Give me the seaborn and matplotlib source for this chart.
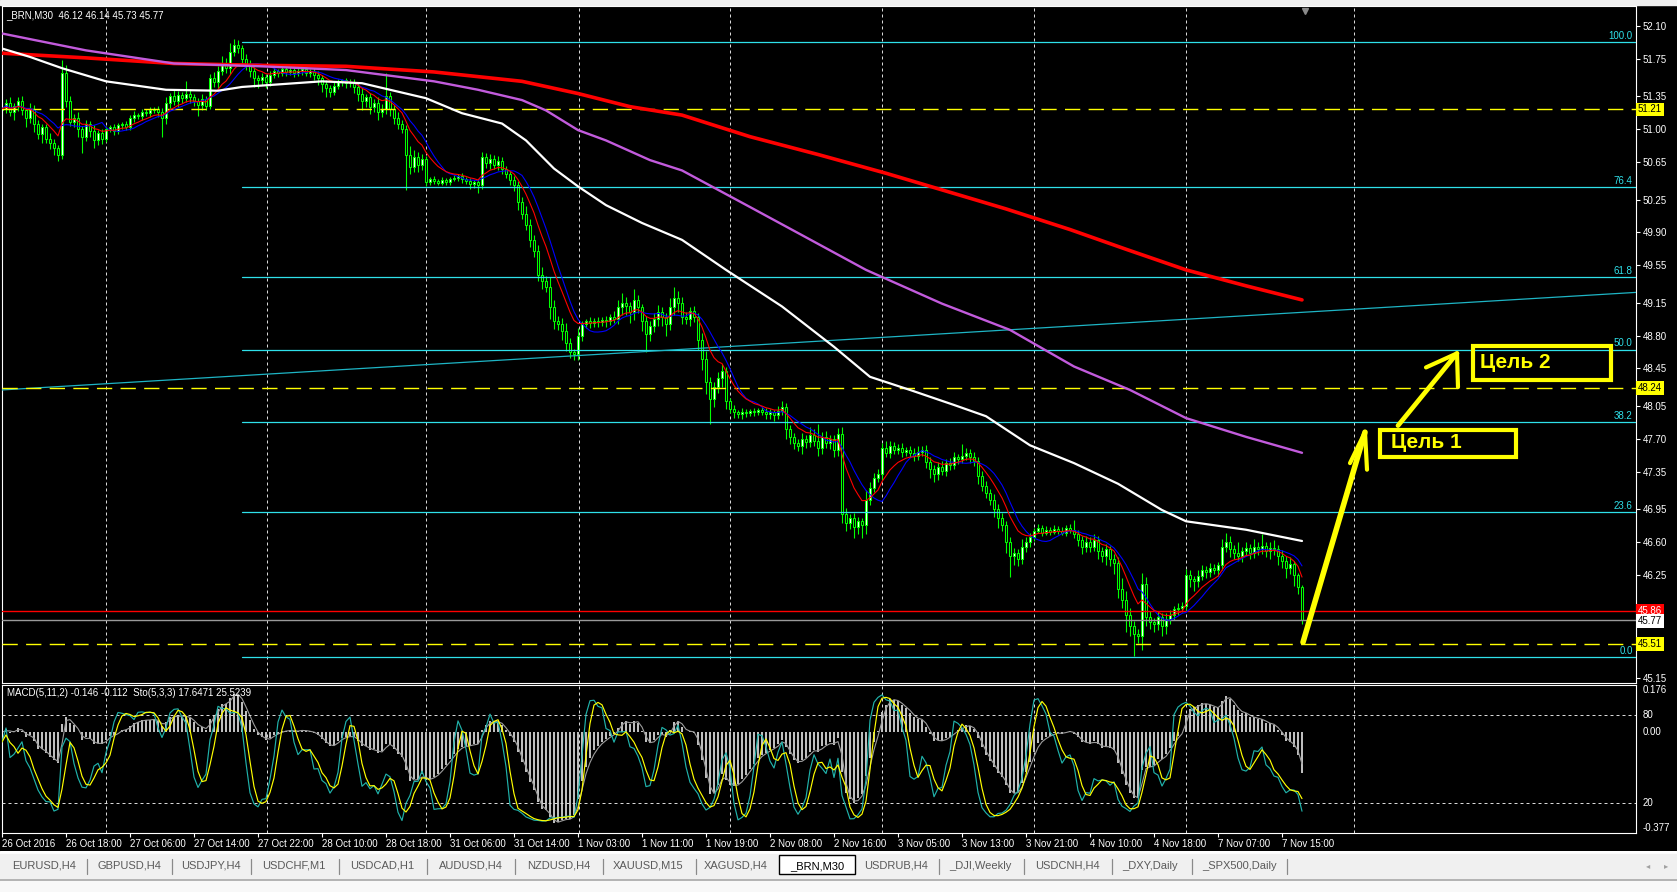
import numpy as np
import pandas as pd
import seaborn as sns
import matplotlib.pyplot as plt
import matplotlib.transforms as mtransforms
from matplotlib.patches import Rectangle

W, H = 1677, 892

# ---- price data (30 min bars, _BRN) ----
first_open = 51.20
closes = [
    51.22, 51.28, 51.18, 51.25, 51.30, 51.20, 51.12, 51.22, 51.05, 50.95, 51.02, 50.90, 50.85, 50.80, 50.72, 51.60,
    51.30, 51.08, 51.12, 51.00, 50.92, 51.05, 50.98, 50.88, 50.96, 50.90, 51.00, 51.02, 50.98, 51.04, 51.06, 51.02,
    51.12, 51.15, 51.14, 51.18, 51.17, 51.20, 51.22, 51.18, 51.12, 51.28, 51.35, 51.30, 51.36, 51.33, 51.38, 51.34,
    51.30, 51.26, 51.32, 51.25, 51.55, 51.50, 51.62, 51.70, 51.65, 51.82, 51.90, 51.86, 51.75, 51.68, 51.62, 51.55,
    51.52, 51.56, 51.50, 51.58, 51.62, 51.60, 51.64, 51.61, 51.63, 51.60, 51.62, 51.64, 51.60, 51.62, 51.58, 51.55,
    51.48, 51.44, 51.40, 51.46, 51.50, 51.52, 51.49, 51.50, 51.45, 51.38, 51.30, 51.34, 51.24, 51.28, 51.18, 51.22,
    51.35, 51.22, 51.12, 51.05, 51.00, 50.72, 50.60, 50.70, 50.62, 50.68, 50.44, 50.47, 50.45, 50.43, 50.46, 50.44,
    50.47, 50.48, 50.50, 50.47, 50.45, 50.42, 50.44, 50.40, 50.70, 50.64, 50.68, 50.62, 50.66, 50.58, 50.52, 50.46,
    50.40, 50.22, 50.10, 49.98, 49.82, 49.70, 49.45, 49.38, 49.32, 49.10, 48.95, 48.92, 48.85, 48.72, 48.62, 48.60,
    48.80, 48.92, 48.95, 48.93, 48.96, 48.94, 48.97, 48.95, 49.00, 48.98, 49.10, 49.15, 49.12, 49.05, 49.18, 49.10,
    48.95, 48.82, 48.90, 48.98, 49.05, 49.00, 48.92, 49.10, 49.20, 49.15, 49.00, 48.98, 49.06, 49.00, 48.75, 48.55,
    48.30, 48.12, 48.25, 48.35, 48.42, 48.10, 48.02, 47.98, 47.96, 47.99, 47.97, 48.00, 47.98, 48.01, 47.99, 47.96,
    47.98, 47.95, 48.00, 48.04, 47.80, 47.72, 47.65, 47.62, 47.70, 47.66, 47.74, 47.68, 47.60, 47.72, 47.65, 47.70,
    47.58, 47.75, 46.90, 46.80, 46.85, 46.76, 46.82, 46.78, 47.05, 47.18, 47.28, 47.32, 47.60, 47.55, 47.62, 47.58,
    47.60, 47.56, 47.58, 47.55, 47.52, 47.56, 47.58, 47.45, 47.38, 47.32, 47.40, 47.36, 47.44, 47.42, 47.50, 47.48,
    47.52, 47.55, 47.50, 47.46, 47.30, 47.20, 47.12, 47.05, 46.95, 46.85, 46.78, 46.60, 46.45, 46.48, 46.42, 46.55,
    46.60, 46.65, 46.72, 46.75, 46.70, 46.73, 46.71, 46.74, 46.72, 46.70, 46.75, 46.73, 46.68, 46.62, 46.55, 46.60,
    46.55, 46.62, 46.50, 46.45, 46.52, 46.42, 46.38, 46.10, 45.98, 45.82, 45.70, 45.62, 45.60, 46.15, 45.80, 45.75,
    45.72, 45.80, 45.70, 45.78, 45.82, 45.88, 45.90, 45.92, 46.25, 46.20, 46.18, 46.24, 46.30, 46.28, 46.32, 46.30,
    46.35, 46.55, 46.60, 46.52, 46.48, 46.45, 46.50, 46.54, 46.48, 46.55, 46.52, 46.56, 46.50, 46.54, 46.52, 46.45,
    46.40, 46.32, 46.36, 46.25, 46.12, 45.77,
]
# wick lengths in cents above max(open, close) / below min(open, close)
up_wick = """
5 4 6 3 4 5 3 6 4 5 3 4 6 5 3 14  8 5 4 6 3 5 4 6 3 4 3 2 4 3 2 3
3 4 2 3 3 4 2 3 5 6 4 8 5 4 13 5  4 3 5 3 4 6 5 8 6 10 6 5 4 5 6 4
3 4 3 4 3 2 3 2 3 2 3 2 3 2 3 4  3 4 3 4 3 2 3 3 4 5 6 4 5 4 6 5
25 5 4 6 5 4 10 8 6 5 3 2 3 2 3 2  2 3 2 3 2 3 2 3 6 5 6 4 5 4 3 3
4 5 6 8 6 5 7 8 6 10 8 6 7 8 5 4  8 4 3 5 3 4 3 4 3 6 8 10 6 4 12 5
4 6 5 6 8 5 4 10 12 8 6 5 4 6 4 8  8 6 5 6 8 4 3 4 3 4 3 2 3 2 3 4
4 3 5 6 4 5 4 5 6 4 8 6 18 5 6 4  4 6 8 6 5 6 5 4 10 6 5 6 5 8 6 5
4 5 3 4 5 6 4 5 6 4 5 6 4 5 6 4  12 5 4 6 5 6 5 4 6 5 6 4 5 6 4 8
5 4 3 4 3 4 3 4 3 4 3 4 10 5 4 6  5 6 4 5 6 4 5 6 12 10 8 6 5 12 8 6
4 5 4 6 5 4 5 4 6 5 4 6 5 4 6 4  4 8 10 6 5 12 5 6 4 8 5 12 4 6 8 5
6 5 8 4 2 2
"""
dn_wick = """
6 5 4 8 6 5 10 5 8 6 10 5 6 8 6 4  6 5 6 8 17 5 6 8 5 6 4 3 4 3 4 3
3 4 3 4 3 4 3 5 20 6 5 4 6 5 4 6  5 12 6 5 4 5 6 4 5 6 4 5 6 5 6 10
8 5 6 4 3 4 3 4 3 4 3 4 3 4 6 8  8 10 6 4 3 4 5 4 6 8 10 6 8 6 8 5
6 8 6 5 4 37 8 6 8 6 5 4 3 2 3 4  3 2 3 4 3 6 5 8 4 5 6 4 5 6 4 5
6 8 6 5 8 6 7 8 6 12 8 6 10 8 6 6  6 6 4 5 4 5 4 6 4 5 6 8 10 12 8 6
10 20 8 6 8 10 12 6 8 10 8 6 8 6 10 12  12 26 8 6 10 8 5 6 4 5 4 3 4 3 4 5
5 6 4 5 10 8 6 5 8 6 5 6 8 6 5 6  8 6 10 8 6 12 8 14 10 6 5 4 6 5 6 4
4 5 4 5 6 5 4 6 10 8 6 5 6 5 4 5  4 5 6 5 8 6 5 6 8 10 6 12 22 10 8 6
6 5 4 3 4 3 4 3 4 3 4 3 4 6 8 6  6 5 8 6 10 8 12 10 8 18 10 24 8 15 10 8
8 6 10 8 6 5 6 5 6 8 10 6 5 6 5 4  6 5 6 8 6 5 6 5 6 5 6 5 6 8 6 10
8 10 6 12 8 4
"""

# long moving averages (their history starts before the window), read at bar positions
red_ma_bars = [0, 21, 43, 65, 86, 108, 130, 144, 157, 170, 187, 204, 221, 236, 251, 267, 281, 296, 311, 325]
red_ma_vals = [51.81, 51.76, 51.70, 51.68, 51.67, 51.61, 51.51, 51.38, 51.24, 51.15,
               50.92, 50.73, 50.53, 50.34, 50.15, 49.93, 49.72, 49.50, 49.33, 49.18]
purple_ma_bars = [0, 21, 43, 65, 86, 108, 119, 130, 136, 144, 151, 162, 170, 187, 200,
                  216, 235, 252, 268, 282, 296, 311, 325]
purple_ma_vals = [52.02, 51.84, 51.70, 51.67, 51.63, 51.51, 51.42, 51.31, 51.20, 50.99,
                  50.88, 50.67, 50.56, 50.17, 49.87, 49.50, 49.14, 48.86, 48.47, 48.22,
                  47.92, 47.72, 47.55]
white_ma_bars = [0, 7, 15, 26, 41, 54, 60, 70, 80, 90, 97, 106, 115, 125, 131, 138, 144,
                 151, 160, 170, 181, 195, 208, 217, 227, 238, 246, 257, 268, 279, 290,
                 296, 311, 325]
white_ma_vals = [51.86, 51.77, 51.65, 51.51, 51.42, 51.41, 51.45, 51.48, 51.51, 51.49,
                 51.42, 51.33, 51.17, 51.06, 50.88, 50.58, 50.39, 50.19, 50.00, 49.82,
                 49.50, 49.11, 48.68, 48.36, 48.22, 48.06, 47.94, 47.63, 47.44, 47.22,
                 46.94, 46.82, 46.73, 46.61]

# objects drawn on the chart
fib_high, fib_low = 51.93, 45.37
fib_ratios = [100.0, 76.4, 61.8, 50.0, 38.2, 23.6, 0.0]
fib_start_bar = 60
trend_bars = [0, 408.5]
trend_prices = [48.22, 49.26]
yellow_levels = [51.21, 48.24, 45.51]
red_level = 45.86
bid_level = 45.77

price_ticks = [52.10, 51.75, 51.35, 51.00, 50.65, 50.25, 49.90, 49.55, 49.15, 48.80,
               48.45, 48.05, 47.70, 47.35, 46.95, 46.60, 46.25, 45.15]
time_labels = ["26 Oct 2016", "26 Oct 18:00", "27 Oct 06:00", "27 Oct 14:00", "27 Oct 22:00",
               "28 Oct 10:00", "28 Oct 18:00", "31 Oct 06:00", "31 Oct 14:00", "1 Nov 03:00",
               "1 Nov 11:00", "1 Nov 19:00", "2 Nov 08:00", "2 Nov 16:00", "3 Nov 05:00",
               "3 Nov 13:00", "3 Nov 21:00", "4 Nov 10:00", "4 Nov 18:00", "7 Nov 07:00",
               "7 Nov 15:00"]
grid_bars = [26, 66.25, 106, 144.25, 182, 220, 258, 296, 338]
tabs = ["EURUSD,H4", "GBPUSD,H4", "USDJPY,H4", "USDCHF,M1", "USDCAD,H1", "AUDUSD,H4",
        "NZDUSD,H4", "XAUUSD,M15", "XAGUSD,H4", "_BRN,M30", "USDRUB,H4", "_DJI,Weekly",
        "USDCNH,H4", "_DXY,Daily", "_SPX500,Daily"]
tab_centers = [44, 129, 211, 294, 382, 471, 559, 648, 736, 817, 896, 980, 1067, 1150, 1239]
tab_seps = [87, 172, 251, 339, 427, 515, 603, 696, 939, 1024, 1112, 1192, 1287]

# ---- build OHLC and indicators ----
c = pd.Series(closes, dtype=float)
n = len(c)
x = np.arange(n)
up = np.array(up_wick.split(), dtype=float) / 100
dn = np.array(dn_wick.split(), dtype=float) / 100
o = c.shift(1).fillna(first_open)
hi = np.maximum(o, c) + up
lo = np.minimum(o, c) - dn

red_fast = c.ewm(span=9, adjust=False).mean()
blue_fast = c.rolling(11, min_periods=1).mean()

macd = c.ewm(span=5, adjust=False).mean() - c.ewm(span=11, adjust=False).mean()
macd_sig = macd.rolling(2, min_periods=1).mean()
ll = lo.rolling(5, min_periods=1).min()
hh = hi.rolling(5, min_periods=1).max()
sto_k = 100 * (c - ll).rolling(3, min_periods=1).sum() / (hh - ll).rolling(3, min_periods=1).sum()
sto_d = sto_k.rolling(3, min_periods=1).mean()

# ---- figure ----
sns.set_theme(style="dark", rc={"axes.facecolor": "black", "figure.facecolor": "black",
                                "patch.edgecolor": "none"})
plt.rcParams['font.family'] = ['Liberation Sans', 'DejaVu Sans']


def rect(l, t, r, b):
    return [l / W, 1 - b / H, (r - l) / W, (b - t) / H]


fig = plt.figure(figsize=(W / 100, H / 100), dpi=100, facecolor="black")
ax = fig.add_axes(rect(2, 6, 1636, 683))
ax2 = fig.add_axes(rect(2, 685, 1636, 833), sharex=ax)
ax3 = ax2.twinx()

for a in (ax, ax2):
    a.set_facecolor("black")
    for s in a.spines.values():
        s.set_color("white")
        s.set_linewidth(0.8)
for s in ax3.spines.values():
    s.set_visible(False)

ax.set_xlim(0, 408.5)
ax.set_ylim(45.096, 52.313)
grid_ls = (0, (3, 3))
for b in grid_bars:
    ax.axvline(b, color="#D8D8D8", lw=0.72, ls=grid_ls, zorder=0.5)
    ax2.axvline(b, color="#D8D8D8", lw=0.72, ls=grid_ls, zorder=0.5)

# candles
ax.vlines(x, lo, hi, color="#00FF00", lw=0.8, zorder=2)
body_h = np.maximum(np.abs(c - o), 0.008)
body_fc = np.where(c >= o, "white", "black")
ax.bar(x, body_h, bottom=np.minimum(o, c), width=0.62, color=body_fc,
       edgecolor="#00FF00", linewidth=0.75, zorder=2.5)

# moving averages
sns.lineplot(x=red_ma_bars, y=red_ma_vals, ax=ax, color="#FF0000", lw=2.6, zorder=4)
sns.lineplot(x=purple_ma_bars, y=purple_ma_vals, ax=ax, color="#C25BDC", lw=1.7, zorder=4)
sns.lineplot(x=white_ma_bars, y=white_ma_vals, ax=ax, color="white", lw=1.6, zorder=4)
sns.lineplot(x=x, y=blue_fast, ax=ax, color="#0000FF", lw=0.8, zorder=3.5)
sns.lineplot(x=x, y=red_fast, ax=ax, color="#FF0000", lw=0.8, zorder=3.6)

# fibo, trend and price lines
blend = mtransforms.blended_transform_factory(ax.transAxes, ax.transData)
for r in fib_ratios:
    lvl = fib_low + (fib_high - fib_low) * r / 100
    ax.plot([fib_start_bar, 408.5], [lvl, lvl], color="#2FE0EA", lw=0.9, zorder=3)
    ax.text(0.998, lvl + 0.015, f"{r:.1f}", transform=blend, ha="right", va="bottom",
            color="#2FE0EA", fontsize=7, zorder=5)
ax.plot(trend_bars, trend_prices, color="#1EB4C4", lw=0.9, zorder=3)
for lvl in yellow_levels:
    ax.axhline(lvl, color="#FFFF00", lw=1.0, ls=(0, (11, 6)), zorder=3)
ax.axhline(red_level, color="#FF0000", lw=1.0, zorder=3)
ax.axhline(bid_level, color="#9A9A9A", lw=1.0, zorder=3)

# right price scale
ax.yaxis.tick_right()
ax.set_yticks(price_ticks)
ax.set_yticklabels([f"{v:.2f}" for v in price_ticks])
ax.tick_params(axis="y", colors="white", labelsize=7, length=3, width=0.8, pad=2,
               direction="out", left=False, right=True)
ax.tick_params(axis="x", length=0, labelbottom=False)
ax.set_xlabel("")
ax.set_ylabel("")

box_kw = dict(transform=blend, ha="left", va="center", fontsize=7, zorder=6, clip_on=False)
for lvl in yellow_levels:
    ax.text(1.0012, lvl, f"{lvl:.2f}", color="black",
            bbox=dict(boxstyle="square,pad=0.2", fc="#FFFF00", ec="none"), **box_kw)
ax.text(1.0012, red_level, f"{red_level:.2f}", color="white",
        bbox=dict(boxstyle="square,pad=0.2", fc="#FF0000", ec="none"), **box_kw)
ax.text(1.0012, bid_level - 0.01, f"{bid_level:.2f}", color="black",
        bbox=dict(boxstyle="square,pad=0.2", fc="white", ec="none"), **box_kw)

ax.text(0.0025, 0.987, "_BRN,M30  46.12 46.14 45.73 45.77", transform=ax.transAxes,
        color="white", fontsize=7, va="center", ha="left")
ax.plot([325.75], [0.993], marker="v", color="#8A8A8A", markersize=5,
        transform=mtransforms.blended_transform_factory(ax.transData, ax.transAxes),
        clip_on=False, zorder=6)

# hand drawn targets
yl = "#FFFF00"
ax.plot([325.25, 340.75], [45.53, 47.77], color=yl, lw=4.0, solid_capstyle="round", zorder=7)
ax.plot([337, 340.75, 341.25], [47.44, 47.77, 47.37], color=yl, lw=3.0,
        solid_capstyle="round", solid_joinstyle="round", zorder=7)
ax.plot([349, 363.75], [47.84, 48.61], color=yl, lw=3.4, solid_capstyle="round", zorder=7)
ax.plot([356, 363.75, 364], [48.46, 48.61, 48.25], color=yl, lw=3.0,
        solid_capstyle="round", solid_joinstyle="round", zorder=7)
ax.add_patch(Rectangle((344.5, 47.505), 34.0, 0.288, fill=False, ec=yl, lw=3.0, zorder=7))
ax.add_patch(Rectangle((367.75, 48.33), 34.5, 0.362, fill=False, ec=yl, lw=3.0, zorder=7))
ax.text(347.25, 47.655, "Цель 1", color=yl, fontsize=15, fontweight="bold",
        ha="left", va="center", zorder=8, family=['Liberation Sans', 'DejaVu Sans'])
ax.text(369.5, 48.51, "Цель 2", color=yl, fontsize=15, fontweight="bold",
        ha="left", va="center", zorder=8, family=['Liberation Sans', 'DejaVu Sans'])

# ---- MACD + stochastic window ----
ax2.bar(x, macd, width=0.5, color="#BEBEBE", edgecolor="none", linewidth=0, zorder=2)
sns.lineplot(x=x, y=macd_sig, ax=ax2, color="#9C9C9C", lw=0.8, zorder=2.5)
ax2.set_ylim(-0.377, 0.176)
sns.lineplot(x=x, y=sto_k, ax=ax3, color="#20B2AA", lw=0.85, zorder=3)
sns.lineplot(x=x, y=sto_d, ax=ax3, color="#FFFF00", lw=0.85, zorder=3.2)
ax3.set_ylim(0, 100)
for lvl in (80, 20):
    ax3.axhline(lvl, color="#D8D8D8", lw=0.72, ls=grid_ls, zorder=1)
for a in (ax2, ax3):
    a.set_ylabel("")
    a.set_yticks([])
    a.tick_params(axis="y", left=False, right=False, labelleft=False, labelright=False)

tick_bars = np.arange(0, 16 * len(time_labels), 16)
ax2.set_xticks(tick_bars)
ax2.set_xticklabels(time_labels, ha="left")
ax2.tick_params(axis="x", colors="white", labelsize=7, length=3, width=0.8, pad=1,
                direction="out", bottom=True)
ax2.set_xlabel("")
ax.set_xlim(0, 408.5)

b2 = mtransforms.blended_transform_factory(ax2.transAxes, ax2.transData)
b3 = mtransforms.blended_transform_factory(ax3.transAxes, ax3.transData)
ax2.text(1.004, 0.176, "0.176", transform=b2, color="white", fontsize=7, va="top", clip_on=False)
ax2.text(1.004, 0.0, "0.00", transform=b2, color="white", fontsize=7, va="center", clip_on=False)
ax2.text(1.004, -0.377, "-0.377", transform=b2, color="white", fontsize=7, va="bottom", clip_on=False)
ax3.text(1.004, 80, "80", transform=b3, color="white", fontsize=7, va="center", clip_on=False)
ax3.text(1.004, 20, "20", transform=b3, color="white", fontsize=7, va="center", clip_on=False)
ax2.text(0.003, 0.946, "MACD(5,11,2) -0.146 -0.112  Sto(5,3,3) 17.6471 25.5239",
         transform=ax2.transAxes, color="white", fontsize=7, va="center", zorder=6)

# ---- window chrome: top strip and tab bar ----
fig.patches.append(Rectangle((0, 1 - 5 / H), 1, 5 / H, transform=fig.transFigure,
                             color="#F0F0F0", zorder=0))
tab_ax = fig.add_axes([0, 0, 1, (H - 851) / H])
tab_ax.set_xlim(0, W)
tab_ax.set_ylim(H, 851)
tab_ax.axis("off")
tab_ax.add_patch(Rectangle((0, 851), W, 3, color="white"))
tab_ax.add_patch(Rectangle((0, 854), W, 27, color="#F0F0F0"))
tab_ax.add_patch(Rectangle((0, 881), W, 11, color="#F8F8F8"))
tab_ax.plot([0, W], [880.5, 880.5], color="#A8A8A8", lw=1.2)
tab_ax.add_patch(Rectangle((779, 855), 76, 19, fc="white", ec="black", lw=1))
for sx in tab_seps:
    tab_ax.plot([sx, sx], [859, 874], color="#8A8A8A", lw=0.9)
for name, cx in zip(tabs, tab_centers):
    tab_ax.text(cx, 866, name, ha="center", va="center", fontsize=8,
                color="black" if name == "_BRN,M30" else "#5A5A5A")
tab_ax.text(1648, 866, "\u25c2", ha="center", va="center", fontsize=6, color="#A0A0A0",
            family=["DejaVu Sans"])
tab_ax.text(1666, 866, "\u25b8", ha="center", va="center", fontsize=6, color="#A0A0A0",
            family=["DejaVu Sans"])

fig.savefig("out.png", dpi=100, facecolor="black")
